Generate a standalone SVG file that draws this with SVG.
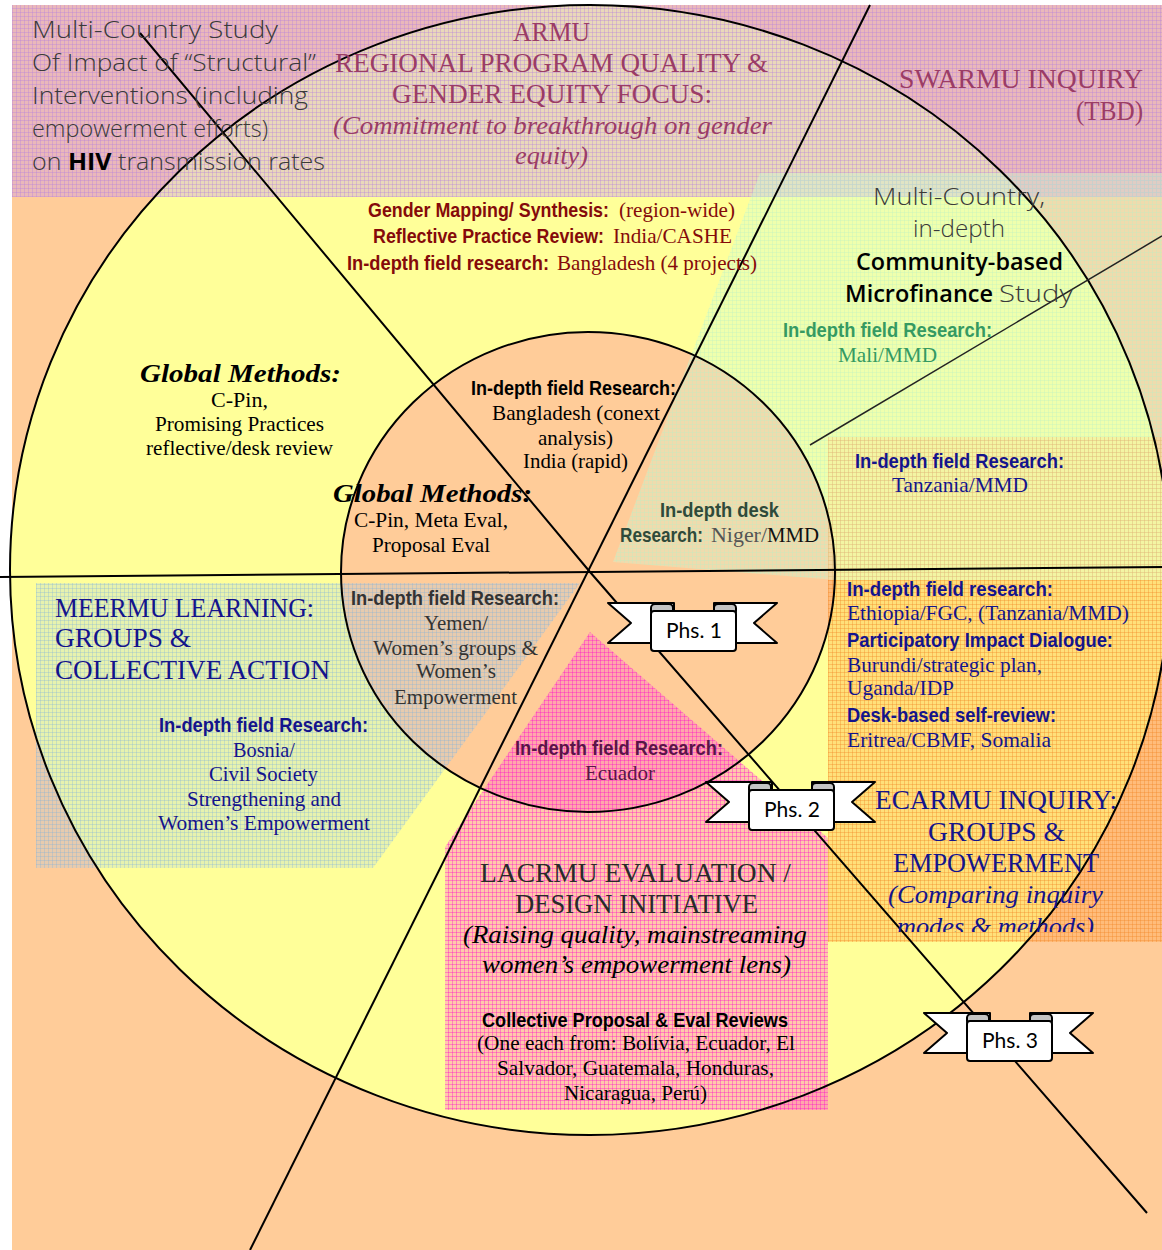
<svg xmlns="http://www.w3.org/2000/svg" xmlns:xlink="http://www.w3.org/1999/xlink" width="1162" height="1250" viewBox="0 0 1162 1250">
  <style>
    .hand{font-family:"Open Sans","DejaVu Sans",sans-serif;font-weight:300;font-size:23px;fill:#3a3a3a}
    .handk{font-family:"Open Sans","DejaVu Sans",sans-serif;font-weight:600;font-size:23px;fill:#000}
    .ttl{font-family:"Liberation Serif","DejaVu Serif",serif;font-size:27px}
    .it{font-family:"Liberation Serif","DejaVu Serif",serif;font-style:italic;font-size:26px}
    .sf{font-family:"Liberation Serif","DejaVu Serif",serif;font-size:21px}
    .nb{font-family:"Liberation Sans Narrow","Liberation Sans",Arial,sans-serif;font-weight:bold;font-size:21px}
    .tnb{font-family:"Liberation Sans Narrow","Liberation Sans",Arial,sans-serif;font-weight:bold}
    .tsf{font-family:"Liberation Serif","DejaVu Serif",serif;font-weight:normal}
    .scr{font-family:"Liberation Serif","DejaVu Serif",serif;font-weight:bold;font-style:italic;font-size:25px;fill:#000}
    .phs{font-family:Lato,"Open Sans",sans-serif;font-size:21px;fill:#000;text-anchor:middle}
    .maroon{fill:#9B3C66}
    .navy{fill:#14148C}
    .dred{fill:#850A0A}
    .green{fill:#359A62}
    .gray{fill:#333}
    .plum{fill:#5A1448}
    .blk{fill:#000}
    .ln{stroke:#000;stroke-width:2;fill:none}
    .rib{fill:#fff;stroke:#000;stroke-width:2;stroke-linejoin:round}
  </style>
  <defs>
    <!-- fine grid textures for the translucent regional panels -->
    <pattern id="patPink" width="4" height="4" patternUnits="userSpaceOnUse">
      <rect width="4" height="4" fill="#C899F0" fill-opacity="0.38"/>
      <path d="M0 0.5H4M0.5 0V4" stroke="#B57FE0" stroke-opacity="0.35"/>
    </pattern>
    <pattern id="patGreen" width="4" height="4" patternUnits="userSpaceOnUse">
      <rect width="4" height="4" fill="#CCFFDD" fill-opacity="0.3"/>
      <path d="M0 0.5H4M0.5 0V4" stroke="#B8F0C8" stroke-opacity="0.3"/>
    </pattern>
    <pattern id="patTan" width="4" height="4" patternUnits="userSpaceOnUse">
      <rect width="4" height="4" fill="#FFD080" fill-opacity="0.22"/>
      <path d="M0 0.5H4M0.5 0V4" stroke="#F0A860" stroke-opacity="0.35"/>
    </pattern>
    <pattern id="patOrange" width="4" height="4" patternUnits="userSpaceOnUse">
      <rect width="4" height="4" fill="#FF9A33" fill-opacity="0.3"/>
      <path d="M0 0.5H4M0.5 0V4" stroke="#F08020" stroke-opacity="0.35"/>
    </pattern>
    <pattern id="patBlue" width="4" height="4" patternUnits="userSpaceOnUse">
      <rect width="4" height="4" fill="#9CC8F0" fill-opacity="0.24"/>
      <path d="M0 0.5H4M0.5 0V4" stroke="#80B0E0" stroke-opacity="0.3"/>
    </pattern>
    <pattern id="patMagenta" width="4" height="4" patternUnits="userSpaceOnUse">
      <rect width="4" height="4" fill="#FF66CC" fill-opacity="0.36"/>
      <path d="M0 0.5H4M0.5 0V4" stroke="#FF00CC" stroke-opacity="0.35"/>
    </pattern>
    <clipPath id="clipEcarmu"><rect x="820" y="580" width="342" height="352"/></clipPath>
    <clipPath id="clipLacrmu"><rect x="440" y="990" width="400" height="114"/></clipPath>
    <!-- scroll ribbon used for the phase labels -->
    <g id="ribbon">
      <path class="rib" d="M0 0H66V40H0L23 20Z"/>
      <path class="rib" d="M169 0H106V40H169L146 20Z"/>
      <rect x="43" y="1" width="22" height="11" rx="4" fill="#c4c4c4" stroke="#000" stroke-width="2"/>
      <rect x="106" y="1" width="22" height="11" rx="4" fill="#c4c4c4" stroke="#000" stroke-width="2"/>
      <rect class="rib" x="43" y="8" width="85" height="40" rx="3"/>
    </g>
  </defs>

  <!-- base -->
  <rect width="1162" height="1250" fill="#fff"/>
  <rect x="12" y="5" width="1150" height="1245" fill="#FFCC99"/>
  <ellipse cx="590" cy="570" rx="580" ry="565" fill="#FFFF99"/>
  <ellipse cx="588" cy="572" rx="247" ry="240" fill="#FFCC99"/>

  <!-- translucent regional panels -->
  <g id="panels">
    <rect id="band-top" x="12" y="5" width="1150" height="192" fill="url(#patPink)"/>
    <polygon id="panel-microfinance" points="760,173 1162,173 1162,580 836,580 613,562" fill="url(#patGreen)"/>
    <rect id="panel-tanzania" x="828" y="437" width="334" height="143" fill="url(#patTan)"/>
    <rect id="panel-ecarmu" x="828" y="580" width="334" height="362" fill="url(#patOrange)"/>
    <polygon id="panel-meermu" points="36,583 580,583 373,868 36,868" fill="url(#patBlue)"/>
    <polygon id="panel-lacrmu" points="590,632 828,838 828,1110 445,1110 445,847" fill="url(#patMagenta)"/>
  </g>

  <!-- ring outlines and dividing lines -->
  <g id="connectors">
    <ellipse class="ln" cx="590" cy="570" rx="580" ry="565"/>
    <ellipse class="ln" cx="588" cy="572" rx="247" ry="240"/>
    <line class="ln" x1="0" y1="577" x2="1162" y2="567"/>
    <polyline class="ln" points="140,33 590,572 1147,1213"/>
    <line class="ln" x1="250" y1="1250" x2="870" y2="5"/>
    <line x1="810" y1="445" x2="1162" y2="236" stroke="#222" stroke-width="1.5"/>
  </g>

  <!-- top-left study -->
  <g id="structural-study">
    <text class="hand" x="32" y="38" textLength="246" lengthAdjust="spacingAndGlyphs">Multi-Country Study</text>
    <text class="hand" x="32" y="71" textLength="284" lengthAdjust="spacingAndGlyphs">Of Impact of “Structural”</text>
    <text class="hand" x="32" y="104" textLength="276" lengthAdjust="spacingAndGlyphs">Interventions (including</text>
    <text class="hand" x="32" y="137" textLength="236" lengthAdjust="spacingAndGlyphs">empowerment efforts)</text>
    <text class="hand" x="32" y="170" textLength="293" lengthAdjust="spacingAndGlyphs">on <tspan font-weight="bold" fill="#000">HIV</tspan> transmission rates</text>
  </g>

  <!-- ARMU -->
  <g id="armu">
    <text class="ttl maroon" x="513" y="41" textLength="77" lengthAdjust="spacingAndGlyphs">ARMU</text>
    <text class="ttl maroon" x="335" y="72" textLength="433" lengthAdjust="spacingAndGlyphs">REGIONAL PROGRAM QUALITY &amp;</text>
    <text class="ttl maroon" x="392" y="103" textLength="320" lengthAdjust="spacingAndGlyphs">GENDER EQUITY FOCUS:</text>
    <text class="it maroon" x="333" y="134" textLength="439" lengthAdjust="spacingAndGlyphs">(Commitment to breakthrough on gender</text>
    <text class="it maroon" x="515" y="164" textLength="73" lengthAdjust="spacingAndGlyphs">equity)</text>
    <text class="dred" y="217" font-size="21"><tspan class="tnb" x="368" textLength="241" lengthAdjust="spacingAndGlyphs">Gender Mapping/ Synthesis:</tspan><tspan class="tsf" x="619" textLength="116" lengthAdjust="spacingAndGlyphs">(region-wide)</tspan></text>
    <text class="dred" y="243" font-size="21"><tspan class="tnb" x="373" textLength="231" lengthAdjust="spacingAndGlyphs">Reflective Practice Review:</tspan><tspan class="tsf" x="613" textLength="119" lengthAdjust="spacingAndGlyphs">India/CASHE</tspan></text>
    <text class="dred" y="270" font-size="21"><tspan class="tnb" x="347" textLength="202" lengthAdjust="spacingAndGlyphs">In-depth field research:</tspan><tspan class="tsf" x="557" textLength="200" lengthAdjust="spacingAndGlyphs">Bangladesh (4 projects)</tspan></text>
  </g>

  <!-- SWARMU -->
  <g id="swarmu">
    <text class="ttl maroon" x="899" y="88" textLength="244" lengthAdjust="spacingAndGlyphs">SWARMU INQUIRY</text>
    <text class="ttl maroon" x="1076" y="120" textLength="67" lengthAdjust="spacingAndGlyphs">(TBD)</text>
  </g>

  <!-- microfinance study -->
  <g id="microfinance">
    <text class="hand" x="873" y="205" textLength="172" lengthAdjust="spacingAndGlyphs">Multi-Country,</text>
    <text class="hand" x="913" y="237" textLength="92" lengthAdjust="spacingAndGlyphs">in-depth</text>
    <text class="handk" x="856" y="270" textLength="207" lengthAdjust="spacingAndGlyphs">Community-based</text>
    <text class="handk" y="302"><tspan x="845" textLength="148" lengthAdjust="spacingAndGlyphs">Microfinance</tspan><tspan x="999" font-weight="300" fill="#3a3a3a" textLength="74" lengthAdjust="spacingAndGlyphs">Study</tspan></text>
    <text class="nb green" x="783" y="337" textLength="209" lengthAdjust="spacingAndGlyphs">In-depth field Research:</text>
    <text class="sf green" x="838" y="362" textLength="99" lengthAdjust="spacingAndGlyphs">Mali/MMD</text>
  </g>

  <!-- global methods -->
  <g id="global-methods-outer">
    <text class="scr" x="140" y="382" textLength="201" lengthAdjust="spacingAndGlyphs">Global Methods:</text>
    <text class="sf blk" x="211" y="407" textLength="57" lengthAdjust="spacingAndGlyphs">C-Pin,</text>
    <text class="sf blk" x="155" y="431" textLength="169" lengthAdjust="spacingAndGlyphs">Promising Practices</text>
    <text class="sf blk" x="146" y="455" textLength="187" lengthAdjust="spacingAndGlyphs">reflective/desk review</text>
  </g>
  <g id="global-methods-inner">
    <text class="scr" x="333" y="502" textLength="199" lengthAdjust="spacingAndGlyphs">Global Methods:</text>
    <text class="sf blk" x="354" y="527" textLength="154" lengthAdjust="spacingAndGlyphs">C-Pin, Meta Eval,</text>
    <text class="sf blk" x="372" y="552" textLength="118" lengthAdjust="spacingAndGlyphs">Proposal Eval</text>
  </g>

  <!-- inner ring: Bangladesh / India -->
  <g id="inner-asia">
    <text class="nb blk" x="471" y="395" textLength="205" lengthAdjust="spacingAndGlyphs">In-depth field Research:</text>
    <text class="sf blk" x="492" y="420" textLength="168" lengthAdjust="spacingAndGlyphs">Bangladesh (conext</text>
    <text class="sf blk" x="538" y="445" textLength="75" lengthAdjust="spacingAndGlyphs">analysis)</text>
    <text class="sf blk" x="523" y="468" textLength="105" lengthAdjust="spacingAndGlyphs">India (rapid)</text>
  </g>

  <!-- inner ring: Niger -->
  <g id="inner-niger">
    <text class="nb" fill="#2F4A3A" x="660" y="517" textLength="119" lengthAdjust="spacingAndGlyphs">In-depth desk</text>
    <text y="542" font-size="21" fill="#2F4A3A"><tspan class="tnb" x="620" textLength="83" lengthAdjust="spacingAndGlyphs">Research:</tspan><tspan class="tsf" x="711" fill="#555" textLength="56" lengthAdjust="spacingAndGlyphs">Niger/</tspan><tspan class="tsf" x="767" fill="#111" textLength="52" lengthAdjust="spacingAndGlyphs">MMD</tspan></text>
  </g>

  <!-- Tanzania -->
  <g id="tanzania">
    <text class="nb navy" x="855" y="468" textLength="209" lengthAdjust="spacingAndGlyphs">In-depth field Research:</text>
    <text class="sf navy" x="892" y="492" textLength="136" lengthAdjust="spacingAndGlyphs">Tanzania/MMD</text>
  </g>

  <!-- ECARMU -->
  <g id="ecarmu">
    <text class="nb navy" x="847" y="596" textLength="206" lengthAdjust="spacingAndGlyphs">In-depth field research:</text>
    <text class="sf navy" x="847" y="620" textLength="282" lengthAdjust="spacingAndGlyphs">Ethiopia/FGC, (Tanzania/MMD)</text>
    <text class="nb navy" x="847" y="647" textLength="266" lengthAdjust="spacingAndGlyphs">Participatory Impact Dialogue:</text>
    <text class="sf navy" x="847" y="672" textLength="195" lengthAdjust="spacingAndGlyphs">Burundi/strategic plan,</text>
    <text class="sf navy" x="847" y="695" textLength="107" lengthAdjust="spacingAndGlyphs">Uganda/IDP</text>
    <text class="nb navy" x="847" y="722" textLength="209" lengthAdjust="spacingAndGlyphs">Desk-based self-review:</text>
    <text class="sf navy" x="847" y="747" textLength="204" lengthAdjust="spacingAndGlyphs">Eritrea/CBMF, Somalia</text>
    <g clip-path="url(#clipEcarmu)">
      <text class="ttl navy" x="875" y="809" textLength="242" lengthAdjust="spacingAndGlyphs">ECARMU INQUIRY:</text>
      <text class="ttl navy" x="928" y="841" textLength="137" lengthAdjust="spacingAndGlyphs">GROUPS &amp;</text>
      <text class="ttl navy" x="893" y="872" textLength="206" lengthAdjust="spacingAndGlyphs">EMPOWERMENT</text>
      <text class="it navy" x="888" y="903" textLength="215" lengthAdjust="spacingAndGlyphs">(Comparing inquiry</text>
      <text class="it navy" x="897" y="935" textLength="197" lengthAdjust="spacingAndGlyphs">modes &amp; methods)</text>
    </g>
  </g>

  <!-- MEERMU -->
  <g id="meermu">
    <text class="ttl navy" x="55" y="617" textLength="259" lengthAdjust="spacingAndGlyphs">MEERMU LEARNING:</text>
    <text class="ttl navy" x="55" y="647" textLength="136" lengthAdjust="spacingAndGlyphs">GROUPS &amp;</text>
    <text class="ttl navy" x="55" y="679" textLength="275" lengthAdjust="spacingAndGlyphs">COLLECTIVE ACTION</text>
    <text class="nb navy" x="159" y="732" textLength="209" lengthAdjust="spacingAndGlyphs">In-depth field Research:</text>
    <text class="sf navy" x="233" y="757" textLength="62" lengthAdjust="spacingAndGlyphs">Bosnia/</text>
    <text class="sf navy" x="209" y="781" textLength="109" lengthAdjust="spacingAndGlyphs">Civil Society</text>
    <text class="sf navy" x="187" y="806" textLength="154" lengthAdjust="spacingAndGlyphs">Strengthening and</text>
    <text class="sf navy" x="158" y="830" textLength="212" lengthAdjust="spacingAndGlyphs">Women’s Empowerment</text>
  </g>

  <!-- inner ring: Yemen -->
  <g id="inner-yemen">
    <text class="nb gray" x="351" y="605" textLength="208" lengthAdjust="spacingAndGlyphs">In-depth field Research:</text>
    <text class="sf gray" x="424" y="630" textLength="64" lengthAdjust="spacingAndGlyphs">Yemen/</text>
    <text class="sf gray" x="373" y="655" textLength="165" lengthAdjust="spacingAndGlyphs">Women’s groups &amp;</text>
    <text class="sf gray" x="416" y="678" textLength="80" lengthAdjust="spacingAndGlyphs">Women’s</text>
    <text class="sf gray" x="394" y="704" textLength="123" lengthAdjust="spacingAndGlyphs">Empowerment</text>
  </g>

  <!-- inner ring: Ecuador -->
  <g id="inner-ecuador">
    <text class="nb plum" x="515" y="755" textLength="208" lengthAdjust="spacingAndGlyphs">In-depth field Research:</text>
    <text class="sf plum" x="585" y="780" textLength="70" lengthAdjust="spacingAndGlyphs">Ecuador</text>
  </g>

  <!-- LACRMU -->
  <g id="lacrmu">
    <text class="ttl" fill="#2a2a2a" x="480" y="882" textLength="311" lengthAdjust="spacingAndGlyphs">LACRMU EVALUATION /</text>
    <text class="ttl" fill="#2a2a2a" x="515" y="913" textLength="243" lengthAdjust="spacingAndGlyphs">DESIGN INITIATIVE</text>
    <text class="it blk" x="463" y="943" textLength="344" lengthAdjust="spacingAndGlyphs">(Raising quality, mainstreaming</text>
    <text class="it blk" x="482" y="973" textLength="309" lengthAdjust="spacingAndGlyphs">women’s empowerment lens)</text>
    <text class="nb blk" x="482" y="1027" textLength="306" lengthAdjust="spacingAndGlyphs">Collective Proposal &amp; Eval Reviews</text>
    <g clip-path="url(#clipLacrmu)">
      <text class="sf blk" x="477" y="1050" textLength="318" lengthAdjust="spacingAndGlyphs">(One each from: Bolívia, Ecuador, El</text>
      <text class="sf blk" x="497" y="1075" textLength="277" lengthAdjust="spacingAndGlyphs">Salvador, Guatemala, Honduras,</text>
      <text class="sf blk" x="564" y="1100" textLength="143" lengthAdjust="spacingAndGlyphs">Nicaragua, Perú)</text>
    </g>
  </g>

  <!-- phase ribbons -->
  <g id="phase-1" transform="translate(608,603)">
    <use xlink:href="#ribbon" href="#ribbon"/>
    <text class="phs" x="86" y="35">Phs. 1</text>
  </g>
  <g id="phase-2" transform="translate(706,782)">
    <use xlink:href="#ribbon" href="#ribbon"/>
    <text class="phs" x="86" y="35">Phs. 2</text>
  </g>
  <g id="phase-3" transform="translate(924,1013)">
    <use xlink:href="#ribbon" href="#ribbon"/>
    <text class="phs" x="86" y="35">Phs. 3</text>
  </g>
</svg>
